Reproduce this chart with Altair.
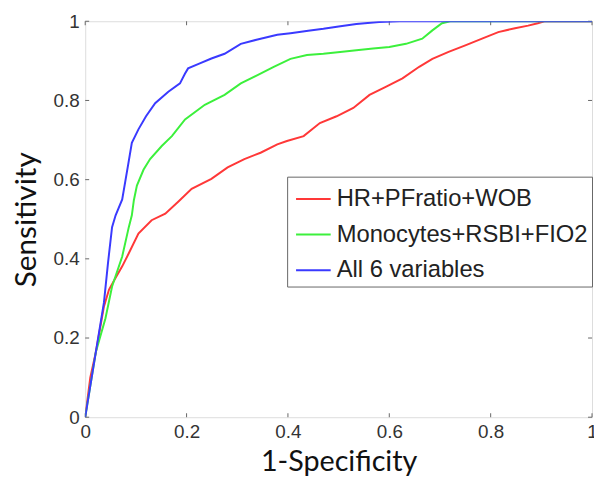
import altair as alt
import pandas as pd

series_names = ["HR+PFratio+WOB", "Monocytes+RSBI+FIO2", "All 6 variables"]
series_colors = ["#ff3838", "#3cf03c", "#3a3aff"]

red_x = [0, 0.01, 0.021, 0.037, 0.047, 0.06, 0.073, 0.086, 0.105, 0.131, 0.158, 0.184, 0.21, 0.249, 0.281,
         0.314, 0.346, 0.379, 0.398, 0.431, 0.463, 0.496, 0.529, 0.561, 0.594, 0.626, 0.659, 0.685, 0.717,
         0.75, 0.783, 0.815, 0.848, 0.874, 0.893, 0.906, 1.0]
red_y = [0, 0.1, 0.164, 0.28, 0.3225, 0.352, 0.381, 0.414, 0.464, 0.4975, 0.514, 0.545, 0.577, 0.602, 0.631,
         0.652, 0.668, 0.689, 0.6975, 0.71, 0.743, 0.76, 0.781, 0.814, 0.835, 0.856, 0.885, 0.905, 0.9225,
         0.939, 0.956, 0.9725, 0.9825, 0.989, 0.995, 1.0, 1.0]

green_x = [0, 0.021, 0.04, 0.053, 0.073, 0.086, 0.092, 0.096, 0.102, 0.115, 0.128, 0.151, 0.171, 0.197, 0.236,
           0.275, 0.307, 0.34, 0.372, 0.405, 0.4375, 0.47, 0.503, 0.535, 0.568, 0.6, 0.633, 0.665, 0.685,
           0.704, 0.72, 1.0]
green_y = [0, 0.165, 0.25, 0.33, 0.406, 0.48, 0.51, 0.548, 0.585, 0.625, 0.652, 0.685, 0.71, 0.752, 0.789,
           0.814, 0.843, 0.864, 0.885, 0.905, 0.915, 0.918, 0.9225, 0.927, 0.931, 0.935, 0.943, 0.956, 0.977,
           0.995, 1.0, 1.0]

blue_x = [0, 0.021, 0.037, 0.045, 0.053, 0.06, 0.073, 0.085, 0.092, 0.105, 0.12, 0.138, 0.164, 0.187, 0.197,
          0.203, 0.225, 0.249, 0.275, 0.307, 0.34, 0.379, 0.405, 0.44, 0.47, 0.5, 0.535, 0.58, 0.62, 1.0]
blue_y = [0, 0.165, 0.29, 0.39, 0.48, 0.51, 0.55, 0.64, 0.693, 0.727, 0.76, 0.793, 0.822, 0.843, 0.868,
          0.881, 0.893, 0.906, 0.918, 0.943, 0.954, 0.966, 0.97, 0.976, 0.981, 0.987, 0.993, 0.998, 1.0, 1.0]

tick_values = [0, 0.2, 0.4, 0.6, 0.8, 1]

rows = []
for name, xs, ys in zip(series_names, [red_x, green_x, blue_x], [red_y, green_y, blue_y]):
    for i, (a, b) in enumerate(zip(xs, ys)):
        rows.append({"series": name, "fpr": a, "tpr": b, "idx": i})
df = pd.DataFrame(rows)
ticks_df = pd.DataFrame({"v": tick_values})

W, H = 512, 400
xscale = alt.Scale(domain=[0, 1], nice=False, zero=False)
yscale = alt.Scale(domain=[0, 1], nice=False, zero=False)
label_font = "Liberation Sans"
title_font = "Lato"

lines = alt.Chart(df).mark_line(strokeWidth=2, clip=True).encode(
    x=alt.X("fpr:Q", scale=xscale, title="1-Specificity",
            axis=alt.Axis(values=tick_values, format="~g", domain=False, ticks=False, grid=False,
                          labelFont=label_font, labelFontSize=19, labelColor="#333",
                          labelPadding=5, labelFlush=False,
                          titleFont=title_font, titleFontSize=29, titleFontWeight="normal",
                          titleColor="#111", titleBaseline="alphabetic", titleY=54)),
    y=alt.Y("tpr:Q", scale=yscale, title="Sensitivity",
            axis=alt.Axis(values=tick_values, format="~g", domain=False, ticks=False, grid=False,
                          labelFont=label_font, labelFontSize=19, labelColor="#333",
                          labelPadding=6, labelFlush=False,
                          titleFont=title_font, titleFontSize=30, titleFontWeight="normal",
                          titleColor="#111", titleBaseline="alphabetic", titleX=-50)),
    color=alt.Color("series:N", sort=series_names,
                    scale=alt.Scale(domain=series_names, range=series_colors),
                    legend=alt.Legend(title=None, orient="none", legendX=204, legendY=157,
                                      symbolType="stroke", symbolSize=1225, symbolStrokeWidth=2,
                                      symbolOffset=4, labelOffset=5,
                                      labelFont=label_font, labelFontSize=24, labelColor="#222",
                                      rowPadding=5, padding=4, strokeColor="#666",
                                      fillColor="white", labelLimit=400)),
    order="idx:Q",
)

tick_color = "#666"
bottom = alt.Chart(ticks_df).mark_rule(color=tick_color).encode(
    x=alt.X("v:Q", scale=xscale), y=alt.value(H), y2=alt.value(H - 4))
top = alt.Chart(ticks_df).mark_rule(color=tick_color).encode(
    x=alt.X("v:Q", scale=xscale), y=alt.value(0), y2=alt.value(4))
left = alt.Chart(ticks_df).mark_rule(color=tick_color).encode(
    y=alt.Y("v:Q", scale=yscale), x=alt.value(0), x2=alt.value(4))
right = alt.Chart(ticks_df).mark_rule(color=tick_color).encode(
    y=alt.Y("v:Q", scale=yscale), x=alt.value(W), x2=alt.value(W - 4))

chart = alt.layer(bottom, top, left, right, lines).properties(
    width=W, height=H,
    autosize=alt.AutoSizeParams(type="none"),
    padding={"left": 78, "top": 11, "right": 2, "bottom": 58},
).configure_view(stroke="#555", strokeWidth=1.2).configure(background="white")

chart.save("out.html", embed_options={"renderer": "svg", "actions": False})
